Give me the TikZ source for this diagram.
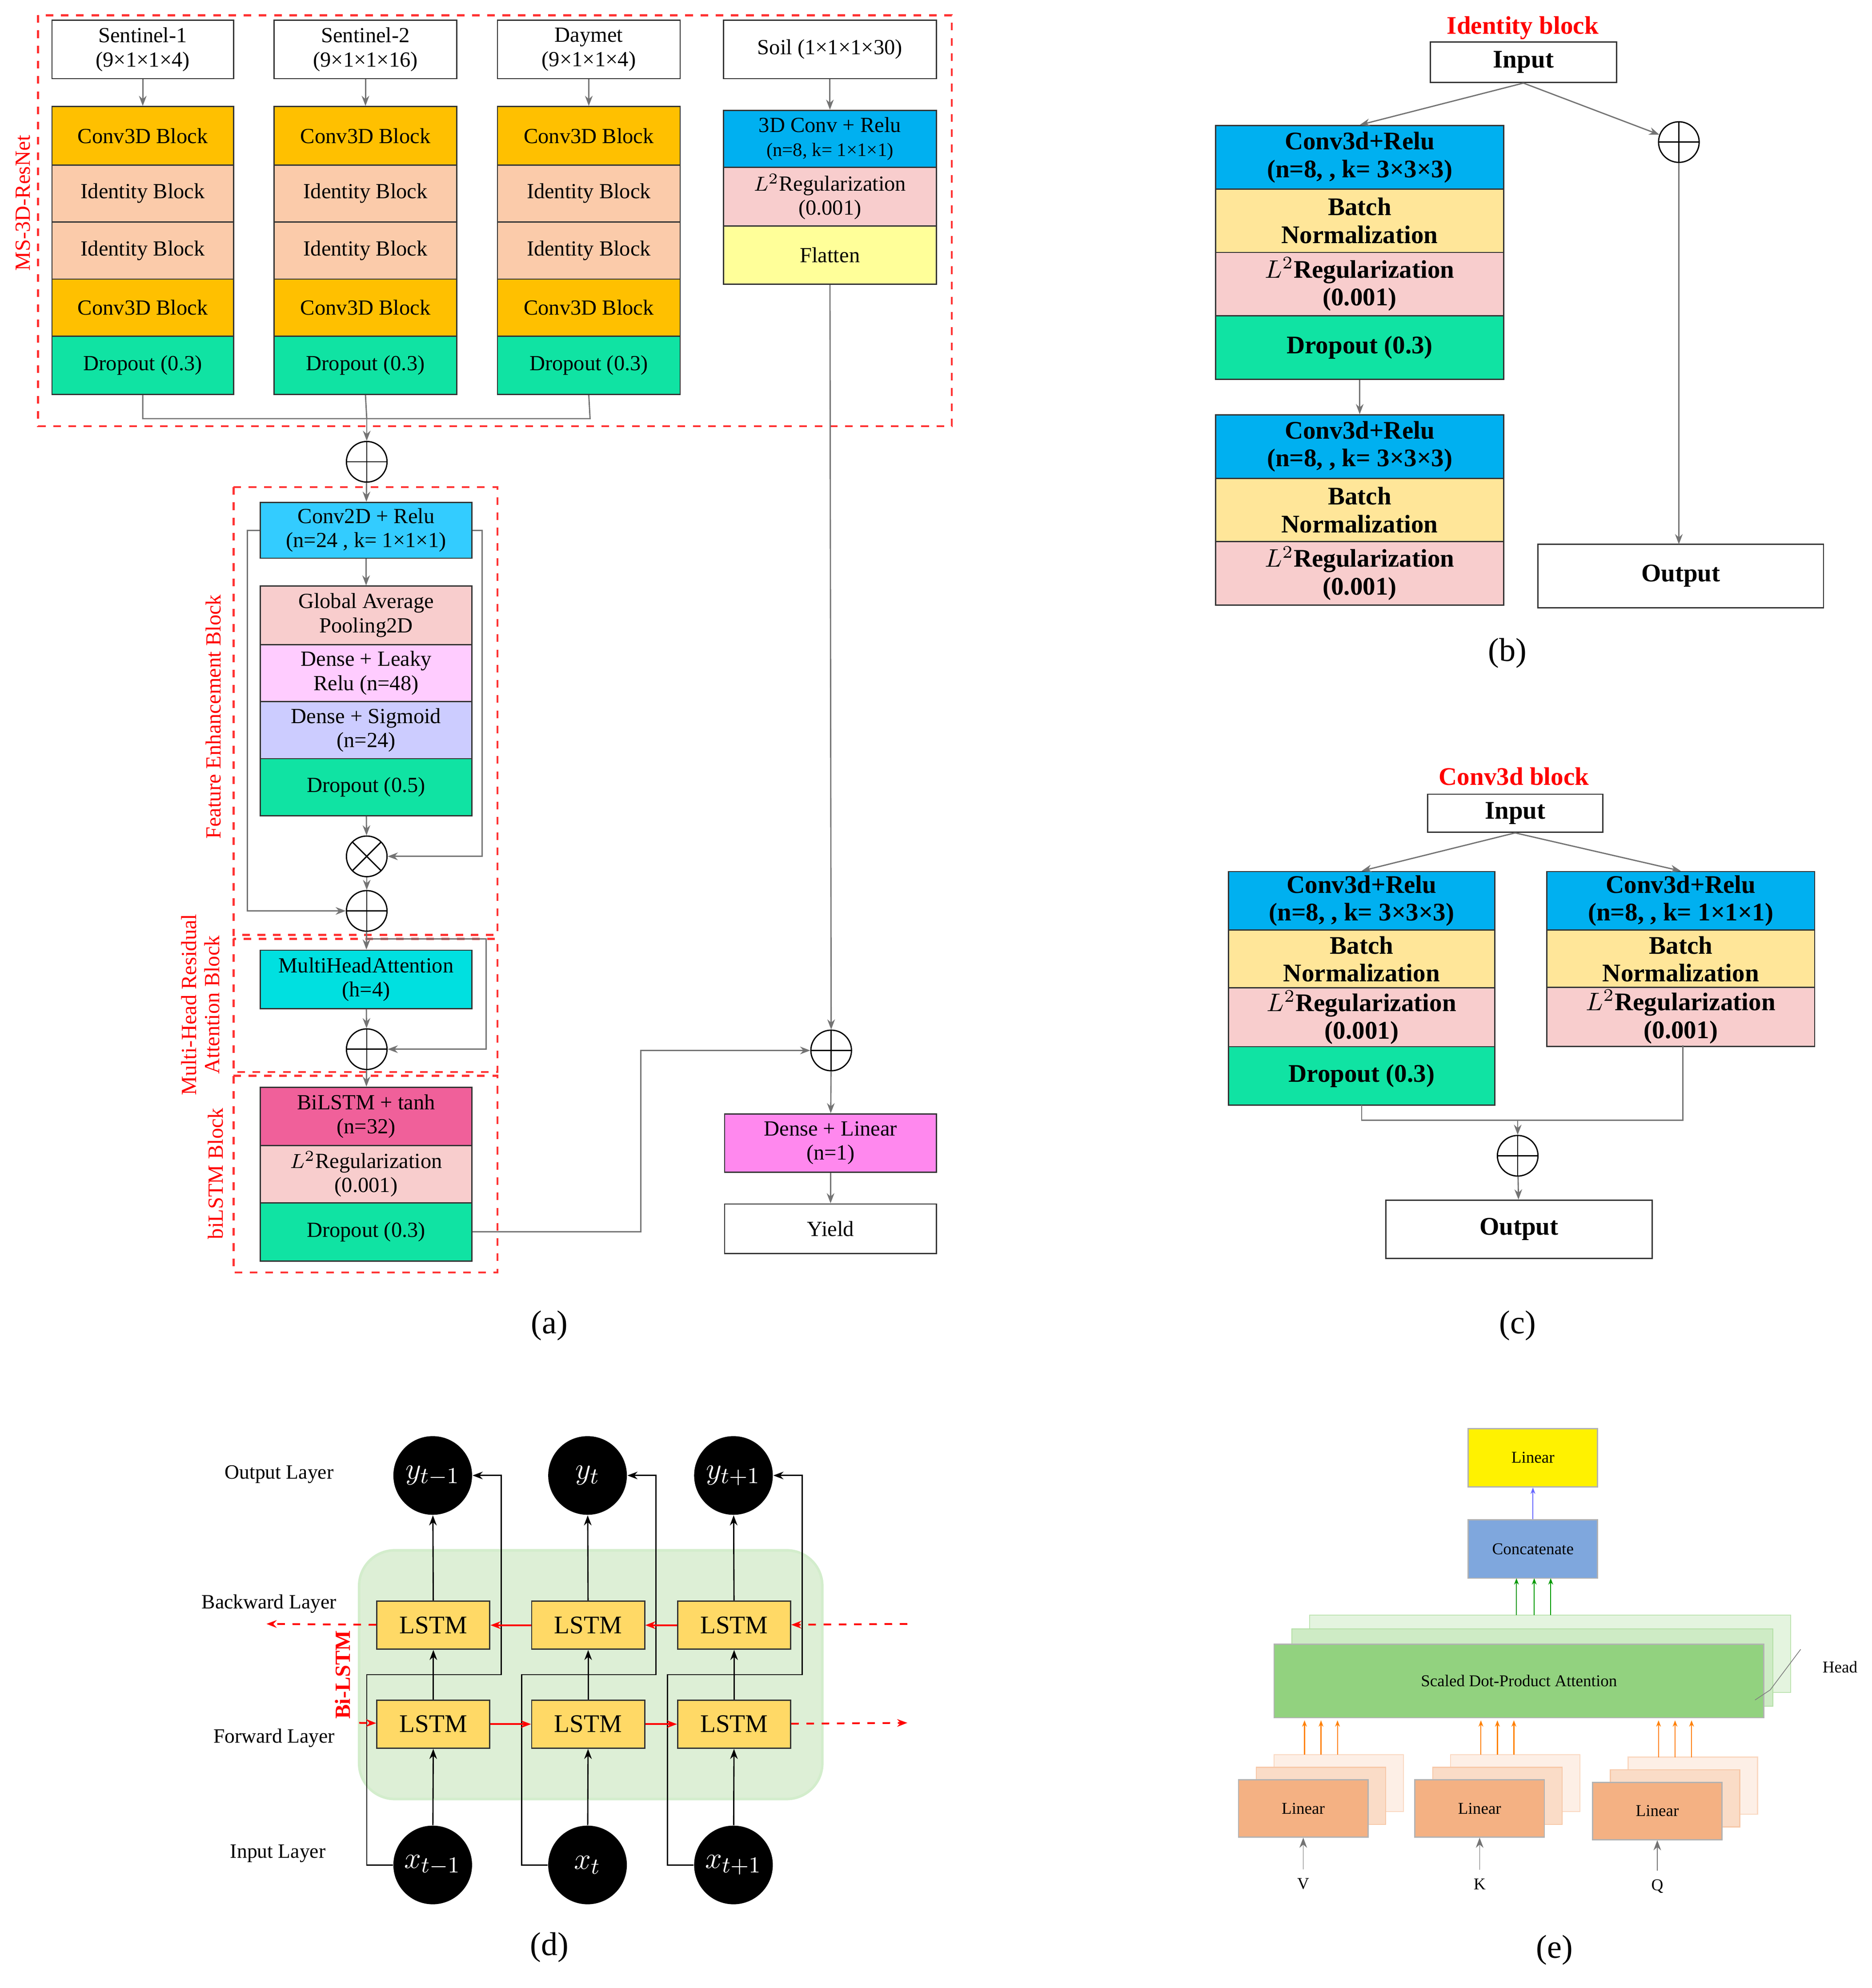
\documentclass[tikz,border=0pt]{standalone}
\usepackage{fontspec}
\setmainfont{Liberation Serif}
\usetikzlibrary{arrows.meta}
\definecolor{cOr}{HTML}{FFC000}\definecolor{cPe}{HTML}{FBCBAA}\definecolor{cGr}{HTML}{10E3A3}
\definecolor{cBl}{HTML}{00B0F0}\definecolor{cPk}{HTML}{F8CDCD}\definecolor{cYe}{HTML}{FFFF99}
\definecolor{cCy}{HTML}{33CCFF}\definecolor{cMg}{HTML}{FFCCFF}\definecolor{cLa}{HTML}{CCCCFF}
\definecolor{cMh}{HTML}{00E0E0}\definecolor{cHp}{HTML}{F0609A}\definecolor{cDl}{HTML}{FF88EE}
\definecolor{cBn}{HTML}{FFE699}\definecolor{cLs}{HTML}{FFD966}\definecolor{cOg}{HTML}{F4B183}
\definecolor{cAt}{HTML}{92D27F}\definecolor{cCc}{HTML}{7FA7DD}\definecolor{cBg}{HTML}{DDEFD6}
\tikzset{box/.style={draw=black!80,line width=0.5pt,inner sep=1pt,align=center,font=\fontsize{8.5}{9.5}\selectfont},
bb/.style={box,font=\bfseries\fontsize{10}{11}\selectfont},
dbox/.style={draw=red!80,dashed,line width=0.8pt},
ln/.style={draw=black!55,line width=0.5pt},
ar/.style={ln,-{Stealth[length=4pt]}},
rl/.style={red,font=\fontsize{8.5}{9}\selectfont},
op/.style={circle,draw,line width=0.5pt,minimum size=16pt,inner sep=0pt,path picture={\draw (path picture bounding box.north)--(path picture bounding box.south)(path picture bounding box.west)--(path picture bounding box.east);}},
ot/.style={circle,draw,line width=0.5pt,minimum size=16pt,inner sep=0pt,path picture={\draw (path picture bounding box.north west)--(path picture bounding box.south east)(path picture bounding box.south west)--(path picture bounding box.north east);}},
bc/.style={circle,fill=black,minimum size=31pt,inner sep=0pt,text=white,font=\fontsize{13}{13}\selectfont},
lab/.style={font=\fontsize{13}{13}\selectfont},
ll/.style={font=\fontsize{8}{9}\selectfont}}
\newcommand\bx[8][box]{\node[#1,fill=#7,minimum width={((#5)-(#3))*0.5pt},minimum height={((#6)-(#4))*0.5pt}] (#2) at ({((#3)+(#5))/2},{((#4)+(#6))/2}) {#8};}
\begin{document}
\begin{tikzpicture}[x=0.5pt,y=-0.5pt]
\useasboundingbox (0,0) rectangle (1475,1567);
%% (a)
\draw[dbox] (30,12) rectangle (750,336);
\node[rl,rotate=90] (lms) at (18,160) {MS-3D-ResNet};
\foreach \n/\xa/\xb/\t in {s1/41/184/{Sentinel-1\\(9×1×1×4)},s2/216/360/{Sentinel-2\\(9×1×1×16)},dm/392/536/{Daymet\\(9×1×1×4)}}{
 \bx{\n i}{\xa}{16}{\xb}{62}{white}{\t}
 \bx{\n a}{\xa}{84}{\xb}{130}{cOr}{Conv3D Block}
 \bx{\n b}{\xa}{130}{\xb}{175}{cPe}{Identity Block}
 \bx{\n c}{\xa}{175}{\xb}{220}{cPe}{Identity Block}
 \bx{\n d}{\xa}{220}{\xb}{265}{cOr}{Conv3D Block}
 \bx{\n e}{\xa}{265}{\xb}{311}{cGr}{Dropout (0.3)}
 \draw[ar] (\n i)--(\n a);
}
\bx{soi}{570}{16}{738}{62}{white}{Soil (1×1×1×30)}
\bx{soa}{570}{87}{738}{132}{cBl}{3D Conv + Relu\\{\fontsize{7.5}{8}\selectfont(n=8, k= 1×1×1)}}
\bx{sob}{570}{132}{738}{178}{cPk}{$L^2$Regularization\\(0.001)}
\bx{soc}{570}{178}{738}{224}{cYe}{Flatten}
\draw[ar] (soi)--(soa);
\node[op] (p1) at (289,364) {};
\coordinate (j1) at (113,330);\coordinate (j3) at (465,330);
\draw[ln] (s1e.south)|-(j3)--(dme.south) (s2e.south)--(289,330);
\draw[ar] (289,330)--(p1);
\draw[dbox] (184,384) rectangle (392,737);
\node[rl,rotate=90] (lfe) at (168,565) {Feature Enhancement Block};
\bx{ca}{205}{396}{372}{440}{cCy}{Conv2D + Relu\\(n=24 , k= 1×1×1)}
\bx{cb}{205}{462}{372}{508}{cPk}{Global Average\\Pooling2D}
\bx{cc}{205}{508}{372}{553}{cMg}{Dense + Leaky\\Relu (n=48)}
\bx{cd}{205}{553}{372}{598}{cLa}{Dense + Sigmoid\\(n=24)}
\bx{ce}{205}{598}{372}{643}{cGr}{Dropout (0.5)}
\draw[ar] (p1)--(ca);\draw[ar] (ca)--(cb);
\node[ot] (x1) at (289,675) {};\node[op] (p2) at (289,718) {};
\draw[ar] (ce)--(x1);\draw[ar] (x1)--(p2);
\draw[ar] (ca.east)-|(380,675)--(x1);
\draw[ar] (ca.west)-|(195,718)--(p2);
\draw[dbox] (184,740) rectangle (392,845);
\node[rl,rotate=90,align=center] (lmh) at (158,792) {Multi-Head Residual\\Attention Block};
\bx{ma}{205}{749}{372}{795}{cMh}{MultiHeadAttention\\(h=4)}
\node[op] (p3) at (289,827) {};
\draw[ar] (p2)--(ma);\draw[ar] (ma)--(p3);
\draw[ar] (289,740)-|(383,827)--(p3);
\draw[dbox] (184,848) rectangle (392,1003);
\node[rl,rotate=90] (lbl) at (170,925) {biLSTM Block};
\bx{ba}{205}{857}{372}{903}{cHp}{BiLSTM + tanh\\(n=32)}
\bx{bb}{205}{903}{372}{948}{cPk}{$L^2$Regularization\\(0.001)}
\bx{bc}{205}{948}{372}{994}{cGr}{Dropout (0.3)}
\draw[ar] (p3)--(ba);
\node[op] (p4) at (655,828) {};
\draw[ar] (soc)--(p4);
\draw[ar] (bc.east)-|(505,828)--(p4);
\bx{da}{571}{878}{738}{924}{cDl}{Dense + Linear\\(n=1)}
\bx{db}{571}{949}{738}{988}{white}{Yield}
\draw[ar] (p4)--(da);\draw[ar] (da)--(db);
\node[lab] (la) at (433,1045) {(a)};
%% (b)
\node[red,font=\bfseries\fontsize{10}{10}\selectfont] (tb) at (1200,22) {Identity block};
\bx[bb]{bi}{1127}{33}{1274}{65}{white}{Input}
\bx[bb]{b1}{958}{99}{1185}{149}{cBl}{Conv3d+Relu\\(n=8, , k= 3×3×3)}
\bx[bb]{b2}{958}{149}{1185}{199}{cBn}{Batch\\Normalization}
\bx[bb]{b3}{958}{199}{1185}{249}{cPk}{$L^2$Regularization\\(0.001)}
\bx[bb]{b4}{958}{249}{1185}{299}{cGr}{Dropout (0.3)}
\bx[bb]{b5}{958}{327}{1185}{377}{cBl}{Conv3d+Relu\\(n=8, , k= 3×3×3)}
\bx[bb]{b6}{958}{377}{1185}{427}{cBn}{Batch\\Normalization}
\bx[bb]{b7}{958}{427}{1185}{477}{cPk}{$L^2$Regularization\\(0.001)}
\bx[bb]{bo}{1212}{429}{1437}{479}{white}{Output}
\node[op] (bp) at (1323,112) {};
\draw[ar] (bi.south)--(b1.north);\draw[ar] (bi.south)--(bp);
\draw[ar] (b4)--(b5);\draw[ar] (bp)--(1323,429);
\node[lab] (lb) at (1188,515) {(b)};
%% (c)
\node[red,font=\bfseries\fontsize{10}{10}\selectfont] (tc) at (1193,612) {Conv3d block};
\bx[bb]{ci}{1125}{626}{1263}{656}{white}{Input}
\bx[bb]{c1}{968}{687}{1178}{733}{cBl}{Conv3d+Relu\\(n=8, , k= 3×3×3)}
\bx[bb]{c2}{968}{733}{1178}{779}{cBn}{Batch\\Normalization}
\bx[bb]{c3}{968}{779}{1178}{825}{cPk}{$L^2$Regularization\\(0.001)}
\bx[bb]{c4}{968}{825}{1178}{871}{cGr}{Dropout (0.3)}
\bx[bb]{c5}{1219}{687}{1430}{733}{cBl}{Conv3d+Relu\\(n=8, , k= 1×1×1)}
\bx[bb]{c6}{1219}{733}{1430}{779}{cBn}{Batch\\Normalization}
\bx[bb]{c7}{1219}{779}{1430}{824}{cPk}{$L^2$Regularization\\(0.001)}
\draw[ar] (ci.south)--(c1.north);\draw[ar] (ci.south)--(c5.north);
\node[op] (cp) at (1196,911) {};
\draw[ln] (1073,871)|-(1326,883)--(1326,824);
\draw[ar] (1196,883)--(cp);
\bx[bb]{co}{1092}{946}{1302}{992}{white}{Output}
\draw[ar] (cp)--(co);
\node[lab] (lc) at (1196,1045) {(c)};
%% (d)
\draw[fill=cBg,draw=cAt!40,rounded corners=14pt,line width=1pt] (283,1222) rectangle (648,1418);
\foreach \i/\c/\s in {1/341/{t-1},2/463/t,3/578/{t+1}}{
 \node[bc] (y\i) at (\c,1163) {$y_{\s}$};
 \node[bc] (x\i) at (\c,1470) {$x_{\s}$};
 \bx{bw\i}{\c-44}{1262}{\c+45}{1300}{cLs}{\fontsize{10}{10}\selectfont LSTM}
 \bx{fw\i}{\c-44}{1340}{\c+45}{1378}{cLs}{\fontsize{10}{10}\selectfont LSTM}
 \draw[ar,draw=black] (x\i)--(fw\i);
 \draw[ar,draw=black] (bw\i)--(y\i);
 \draw[ar,draw=black] (x\i.west)-|(\c-52,1320)-|(bw\i.south);
 \draw[ar,draw=black] (fw\i.north)|-(\c+54,1320)|-(y\i.east);
}
\tikzset{ra/.style={red,line width=0.7pt,-{Stealth[length=4pt]}}}
\draw[ra] (bw3)--(bw2);\draw[ra] (bw2)--(bw1);\draw[ra] (fw1)--(fw2);\draw[ra] (fw2)--(fw3);
\coordinate (e1) at (715,1280);\coordinate (e2) at (210,1280);\coordinate (e3) at (283,1358);\coordinate (e4) at (715,1358);
\draw[ra,dashed] (e1)--(bw3);\draw[ra,dashed] (bw1)--(e2);\draw[ra,dashed] (e3)--(fw1);\draw[ra,dashed] (fw3)--(e4);
\node[red,font=\bfseries\fontsize{8.5}{9}\selectfont,rotate=90] (bil) at (270,1320) {Bi-LSTM};
\node[ll] (o1) at (220,1162) {Output Layer};
\node[ll] (o2) at (212,1264) {Backward Layer};
\node[ll] (o3) at (216,1370) {Forward Layer};
\node[ll] (o4) at (219,1461) {Input Layer};
\node[lab] (ld) at (433,1535) {(d)};
%% (e)
\tikzset{eb/.style={box,draw=black!30,font=\fontsize{6.5}{7}\selectfont}}
\bx[eb]{el}{1157}{1126}{1259}{1172}{yellow}{Linear}
\bx[eb]{ec}{1157}{1198}{1259}{1244}{cCc}{Concatenate}
\draw[draw=cAt!60,fill=cAt!25] (1032,1273) rectangle (1411,1334);
\draw[draw=cAt!70,fill=cAt!45] (1018,1284) rectangle (1397,1345);
\bx[eb]{ea}{1004}{1296}{1390}{1354}{cAt}{Scaled Dot-Product Attention}
\draw[gray,line width=0.3pt] (1383,1340)--(1395,1332)--(1419,1300);
\node[font=\fontsize{6.5}{7}\selectfont] (eh) at (1450,1314) {Head};
\foreach \i/\xa/\ya/\l in {1/976/1403/V,2/1115/1403/K,3/1255/1405/Q}{
 \draw[draw=cOg!50,fill=cOg!20] (\xa+28,\ya-20) rectangle (\xa+130,\ya+25);
 \draw[draw=cOg!70,fill=cOg!45] (\xa+14,\ya-10) rectangle (\xa+116,\ya+35);
 \bx[eb]{lq\i}{\xa}{\ya}{\xa+102}{\ya+45}{cOg}{Linear}
 \node[font=\fontsize{6.5}{7}\selectfont] (lv\i) at (\xa+51,\ya+82) {\l};
 \draw[ar,line width=0.3pt] (lv\i)--(lq\i);
 \foreach \d in {0,13,26}{\draw[orange,line width=0.4pt,-{Stealth[length=2.5pt]}] (\xa+52+\d,\ya-20)--(\xa+52+\d,1356);}
}
\foreach \d in {1195,1209,1222}{\draw[green!60!black,line width=0.4pt,-{Stealth[length=2.5pt]}] (\d,1273)--(\d,1244);}
\draw[blue!60,line width=0.4pt,-{Stealth[length=2.5pt]}] (ec)--(el);
\node[lab] (le) at (1225,1537) {(e)};
\end{tikzpicture}
\end{document}
